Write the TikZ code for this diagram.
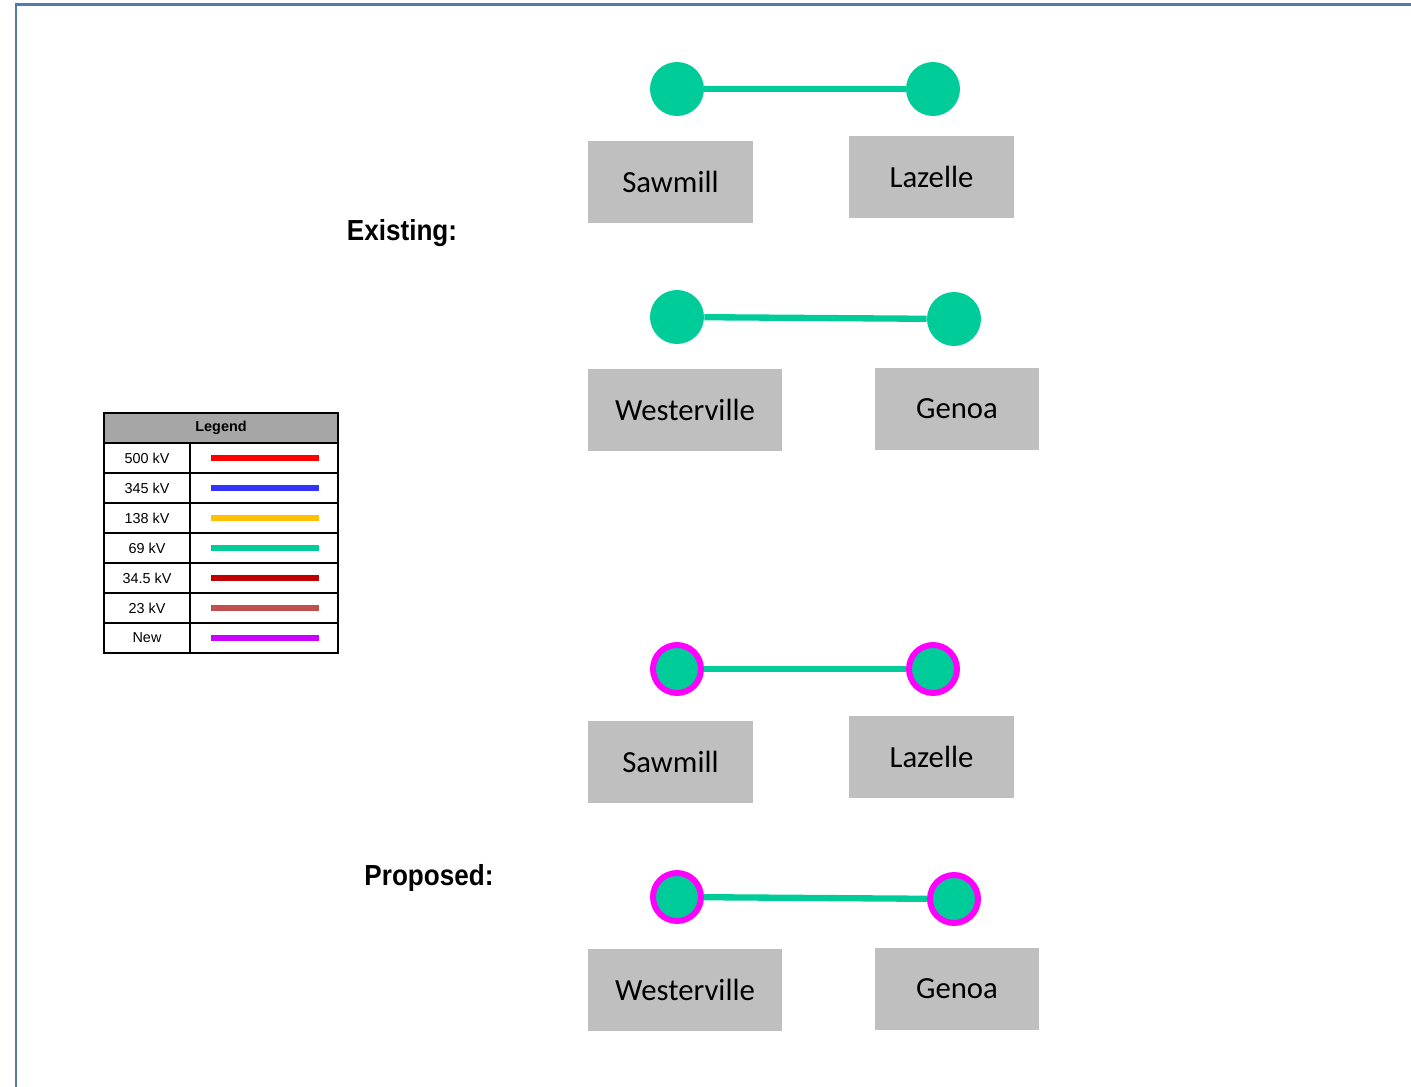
\documentclass[tikz,border=0pt]{standalone}
\usepackage{fontspec}
\setmainfont{Liberation Sans}
\newfontfamily\calibri{Carlito}
\usetikzlibrary{positioning}
\definecolor{kvsixtynine}{HTML}{00CC99}
\definecolor{newline}{HTML}{FF00FF}
\definecolor{boxgray}{HTML}{BFBFBF}
\definecolor{framebl}{HTML}{4F7BAD}

\begin{document}
\begin{tikzpicture}[x=0.02cm,y=-0.02cm,
  every node/.style={inner sep=0pt},
  sub/.style={circle,fill=kvsixtynine,minimum size=1.08cm},
  subnew/.style={circle,fill=kvsixtynine,draw=newline,line width=3.4pt,minimum size=0.96cm},
  lbl/.style={fill=boxgray,minimum height=1.64cm,minimum width=3.3cm,font=\calibri\fontsize{17.5}{20}\selectfont},
  tline/.style={kvsixtynine,line width=3.6pt},
  head/.style={font=\bfseries\fontsize{16.5}{19}\selectfont,xscale=0.9},
  legtxt/.style={font=\fontsize{8.2}{10}\selectfont}]
\useasboundingbox (0,0) rectangle (1411,1087);
\draw[framebl,line width=0.06cm] (16,1087)--(16,5)--(1411,5);

\node[head] (existing) at (402,233) {Existing:};
\node[head] (proposed) at (429,878) {Proposed:};

% existing
\node[sub] (saw1) at (677,89) {};
\node[sub] (laz1) at (933,89) {};
\draw[tline] (saw1)--(laz1);
\node[lbl] (sawlbl1) at (670.5,182) {Sawmill};
\node[lbl] (lazlbl1) at (931.5,177) {Lazelle};
\node[sub] (wes1) at (677,317) {};
\node[sub] (gen1) at (954,319) {};
\draw[tline] (wes1)--(gen1);
\node[lbl,minimum width=3.88cm] (weslbl1) at (685,410) {Westerville};
\node[lbl] (genlbl1) at (957,409) {Genoa};

% proposed
\node[subnew] (saw2) at (677,669) {};
\node[subnew] (laz2) at (933,669) {};
\draw[tline] (saw2)--(laz2);
\node[lbl] (sawlbl2) at (670.5,762) {Sawmill};
\node[lbl] (lazlbl2) at (931.5,757) {Lazelle};
\node[subnew] (wes2) at (677,897) {};
\node[subnew] (gen2) at (954,899) {};
\draw[tline] (wes2)--(gen2);
\node[lbl,minimum width=3.88cm] (weslbl2) at (685,990) {Westerville};
\node[lbl] (genlbl2) at (957,989) {Genoa};

% legend
\fill[gray!70] (104,413) rectangle (338,443);
\node[legtxt,font=\bfseries\fontsize{8.2}{10}\selectfont] (legend) at (221,428) {Legend};
\foreach \txt/\col [count=\i] in {500 kV/FF0000,345 kV/3333FF,138 kV/FFC000,69 kV/00CC99,34.5 kV/C00000,23 kV/C0504D,New/CC00FF}{
  \node[legtxt] (leg\i) at (147,428+30*\i) {\txt};
  \definecolor{legcol}{HTML}{\col}
  \draw[legcol,line width=3pt] (211,428+30*\i)--(319,428+30*\i);
  \draw[line width=1.2pt] (104,413+30*\i)--(338,413+30*\i);
}
\draw[line width=1.2pt] (104,413) rectangle (338,653);
\draw[line width=1.2pt] (190,443)--(190,653);
\end{tikzpicture}
\end{document}
